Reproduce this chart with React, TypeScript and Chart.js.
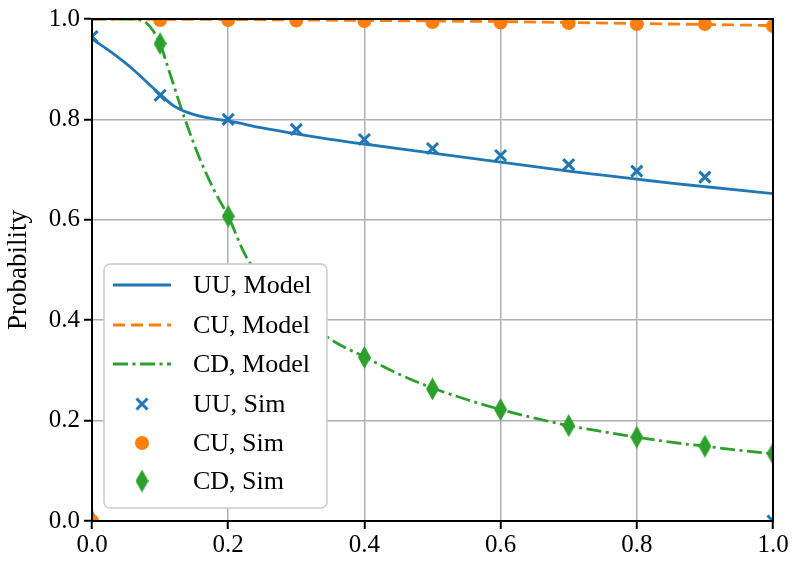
import React, { useEffect, useRef } from "react";
import { Chart, registerables } from "chart.js";

Chart.register(...registerables);

// ---------- data ----------
const uuModelX = [0, 0.02, 0.04, 0.06, 0.08, 0.1, 0.12, 0.14, 0.16, 0.18, 0.2, 0.25, 0.3, 0.35, 0.4, 0.45, 0.5, 0.55, 0.6, 0.65, 0.7, 0.75, 0.8, 0.85, 0.9, 0.95, 1.0];
const uuModelY = [0.96, 0.942, 0.922, 0.9, 0.875, 0.85, 0.827, 0.814, 0.806, 0.801, 0.797, 0.783, 0.771, 0.76, 0.751, 0.742, 0.733, 0.724, 0.715, 0.706, 0.697, 0.689, 0.681, 0.673, 0.666, 0.659, 0.652];

const cuModelX = [0, 0.1, 0.2, 0.3, 0.4, 0.5, 0.6, 0.7, 0.8, 0.9, 1.0];
const cuModelY = [1.0, 0.9995, 0.999, 0.998, 0.997, 0.996, 0.995, 0.993, 0.991, 0.989, 0.987];

const cdModelX = [0, 0.02, 0.04, 0.06, 0.07, 0.08, 0.09, 0.1, 0.11, 0.12, 0.13, 0.14, 0.15, 0.16, 0.18, 0.2, 0.225, 0.25, 0.3, 0.35, 0.4, 0.45, 0.5, 0.55, 0.6, 0.65, 0.7, 0.75, 0.8, 0.85, 0.9, 0.95, 1.0];
const cdModelY = [1, 1, 1, 1, 0.998, 0.992, 0.976, 0.951, 0.91, 0.868, 0.826, 0.787, 0.75, 0.716, 0.657, 0.607, 0.53, 0.48, 0.415, 0.362, 0.327, 0.293, 0.265, 0.242, 0.222, 0.205, 0.19, 0.178, 0.167, 0.157, 0.149, 0.141, 0.134];

const simX = [0, 0.1, 0.2, 0.3, 0.4, 0.5, 0.6, 0.7, 0.8, 0.9, 1.0];
const uuSim = [0.965, 0.848, 0.8, 0.78, 0.76, 0.742, 0.728, 0.71, 0.697, 0.685, 0];
const cuSim = [0, 0.998, 0.998, 0.997, 0.996, 0.994, 0.993, 0.992, 0.99, 0.99, 0.986];
const cdSim = [0, 0.951, 0.607, 0.43, 0.326, 0.263, 0.222, 0.19, 0.167, 0.149, 0.134];

const xTicks = [0, 0.2, 0.4, 0.6, 0.8, 1.0];
const yTicks = [0, 0.2, 0.4, 0.6, 0.8, 1.0];

const legendLabels = ["UU, Model", "CU, Model", "CD, Model", "UU, Sim", "CU, Sim", "CD, Sim"];

// ---------- style ----------
const BLUE = "#1f77b4";
const ORANGE = "#ff7f0e";
const GREEN = "#2ca02c";
const FONT = "'Liberation Serif', 'DejaVu Serif', serif";
const DASH_CU = [12, 6];
const DASH_CD = [15, 4.5, 3, 4.5];

const pts = (xs: number[], ys: number[]) => xs.map((x, i) => ({ x, y: ys[i] }));

function makeDiamond(w: number, h: number, color: string) {
  const c = document.createElement("canvas");
  c.width = w;
  c.height = h;
  const g = c.getContext("2d")!;
  g.fillStyle = color;
  g.beginPath();
  g.moveTo(w / 2, 0);
  g.lineTo(w, h / 2);
  g.lineTo(w / 2, h);
  g.lineTo(0, h / 2);
  g.closePath();
  g.fill();
  return c;
}

function drawLegend(ctx: CanvasRenderingContext2D, left: number, diamond: HTMLCanvasElement) {
  const bx = left + 12;
  const by = 264;
  const bw = 223;
  const bh = 244;
  const r = 6;
  ctx.save();
  ctx.setLineDash([]);
  ctx.beginPath();
  ctx.moveTo(bx + r, by);
  ctx.lineTo(bx + bw - r, by);
  ctx.arcTo(bx + bw, by, bx + bw, by + r, r);
  ctx.lineTo(bx + bw, by + bh - r);
  ctx.arcTo(bx + bw, by + bh, bx + bw - r, by + bh, r);
  ctx.lineTo(bx + r, by + bh);
  ctx.arcTo(bx, by + bh, bx, by + bh - r, r);
  ctx.lineTo(bx, by + r);
  ctx.arcTo(bx, by, bx + r, by, r);
  ctx.closePath();
  ctx.fillStyle = "#ffffff";
  ctx.fill();
  ctx.strokeStyle = "#cccccc";
  ctx.lineWidth = 1.5;
  ctx.stroke();

  const rowY = [285, 325, 364, 404, 443, 481];
  const hx0 = bx + 9;
  const hx1 = bx + 67;
  const hxc = (hx0 + hx1) / 2;
  const tx = bx + 89;
  ctx.font = `26px ${FONT}`;
  ctx.textBaseline = "middle";
  ctx.textAlign = "left";
  legendLabels.forEach((lab, i) => {
    const y = rowY[i];
    ctx.save();
    if (i <= 2) {
      ctx.lineWidth = 2.8;
      ctx.strokeStyle = i === 0 ? BLUE : i === 1 ? ORANGE : GREEN;
      ctx.setLineDash(i === 0 ? [] : i === 1 ? DASH_CU : DASH_CD);
      ctx.beginPath();
      ctx.moveTo(hx0, y);
      ctx.lineTo(hx1, y);
      ctx.stroke();
    } else if (i === 3) {
      ctx.strokeStyle = BLUE;
      ctx.lineWidth = 3;
      const s = 5.5;
      ctx.beginPath();
      ctx.moveTo(hxc - s, y - s);
      ctx.lineTo(hxc + s, y + s);
      ctx.moveTo(hxc + s, y - s);
      ctx.lineTo(hxc - s, y + s);
      ctx.stroke();
    } else if (i === 4) {
      ctx.fillStyle = ORANGE;
      ctx.beginPath();
      ctx.arc(hxc, y, 7, 0, Math.PI * 2);
      ctx.fill();
    } else {
      ctx.drawImage(diamond, hxc - diamond.width / 2, y - diamond.height / 2);
    }
    ctx.restore();
    ctx.fillStyle = "#000";
    ctx.fillText(lab, tx, y + 1);
  });
  ctx.restore();
}

export default function App() {
  const ref = useRef<HTMLCanvasElement | null>(null);
  const overlayRef = useRef<HTMLCanvasElement | null>(null);

  useEffect(() => {
    if (!ref.current || !overlayRef.current) return;
    const diamond = makeDiamond(13, 23, GREEN);

    const framePlugin = {
      id: "frame",
      afterDatasetsDraw(chart: any) {
        const { ctx, chartArea: a } = chart;
        ctx.save();
        ctx.setLineDash([]);
        ctx.strokeStyle = "#000";
        ctx.lineWidth = 2;
        ctx.strokeRect(a.left, a.top, a.right - a.left, a.bottom - a.top);
        ctx.restore();
      },
    };

    const chart = new Chart(ref.current, {
      type: "line",
      data: {
        datasets: [
          {
            label: legendLabels[0],
            data: pts(uuModelX, uuModelY),
            borderColor: BLUE,
            borderWidth: 2.8,
            pointRadius: 0,
            cubicInterpolationMode: "monotone",
          },
          {
            label: legendLabels[1],
            data: pts(cuModelX, cuModelY),
            borderColor: ORANGE,
            borderWidth: 2.8,
            borderDash: DASH_CU,
            pointRadius: 0,
          },
          {
            label: legendLabels[2],
            data: pts(cdModelX, cdModelY),
            borderColor: GREEN,
            borderWidth: 2.8,
            borderDash: DASH_CD,
            pointRadius: 0,
            cubicInterpolationMode: "monotone",
          },
          {
            label: legendLabels[3],
            data: pts(simX, uuSim),
            showLine: false,
            pointStyle: "crossRot",
            pointRadius: 7.8,
            pointBorderWidth: 3,
            borderColor: BLUE,
            backgroundColor: BLUE,
          },
          {
            label: legendLabels[4],
            data: pts(simX, cuSim),
            showLine: false,
            pointStyle: "circle",
            pointRadius: 7,
            pointBorderWidth: 0,
            borderColor: ORANGE,
            backgroundColor: ORANGE,
          },
          {
            label: legendLabels[5],
            data: pts(simX, cdSim),
            showLine: false,
            pointStyle: diamond as any,
            pointRadius: 8,
            borderColor: GREEN,
            backgroundColor: GREEN,
          },
        ],
      },
      options: {
        animation: false,
        responsive: false,
        events: [],
        layout: { padding: { top: 12, right: 21, left: 0, bottom: 0 } },
        plugins: { legend: { display: false }, tooltip: { enabled: false } },
        scales: {
          x: {
            type: "linear",
            min: 0,
            max: 1,
            afterBuildTicks: (s: any) => {
              s.ticks = xTicks.map((v) => ({ value: v }));
            },
            afterFit: (s: any) => {
              s.height = 41;
            },
            ticks: {
              callback: (v: any) => Number(v).toFixed(1),
              font: { family: FONT, size: 25 },
              color: "#000",
              padding: 1,
              maxRotation: 0,
            },
            grid: {
              color: "#b0b0b0",
              lineWidth: 1.5,
              tickColor: "#000",
              tickLength: 8,
              tickWidth: 2,
            },
            border: { color: "#000", width: 2 },
          },
          y: {
            type: "linear",
            min: 0,
            max: 1,
            afterBuildTicks: (s: any) => {
              s.ticks = yTicks.map((v) => ({ value: v }));
            },
            afterFit: (s: any) => {
              s.width = 92;
            },
            ticks: {
              callback: (v: any) => Number(v).toFixed(1),
              font: { family: FONT, size: 25 },
              color: "#000",
              padding: 4,
            },
            grid: {
              color: "#b0b0b0",
              lineWidth: 1.5,
              tickColor: "#000",
              tickLength: 8,
              tickWidth: 2,
            },
            border: { color: "#000", width: 2 },
            title: {
              display: true,
              text: "Probability",
              font: { family: FONT, size: 27 },
              color: "#000",
              padding: { top: 3, bottom: 0 },
            },
          },
        },
      },
      plugins: [framePlugin],
    });

    const octx = overlayRef.current.getContext("2d")!;
    octx.clearRect(0, 0, 794, 562);
    drawLegend(octx, chart.chartArea.left, diamond);

    return () => {
      chart.destroy();
      octx.clearRect(0, 0, 794, 562);
    };
  }, []);

  return (
    <div style={{ position: "absolute", left: 0, top: 0, width: 794, height: 562, background: "#fff" }}>
      <canvas ref={ref} width={794} height={562} style={{ position: "absolute", left: 0, top: 0, width: 794, height: 562 }} />
      <canvas ref={overlayRef} width={794} height={562} style={{ position: "absolute", left: 0, top: 0, width: 794, height: 562 }} />
    </div>
  );
}
